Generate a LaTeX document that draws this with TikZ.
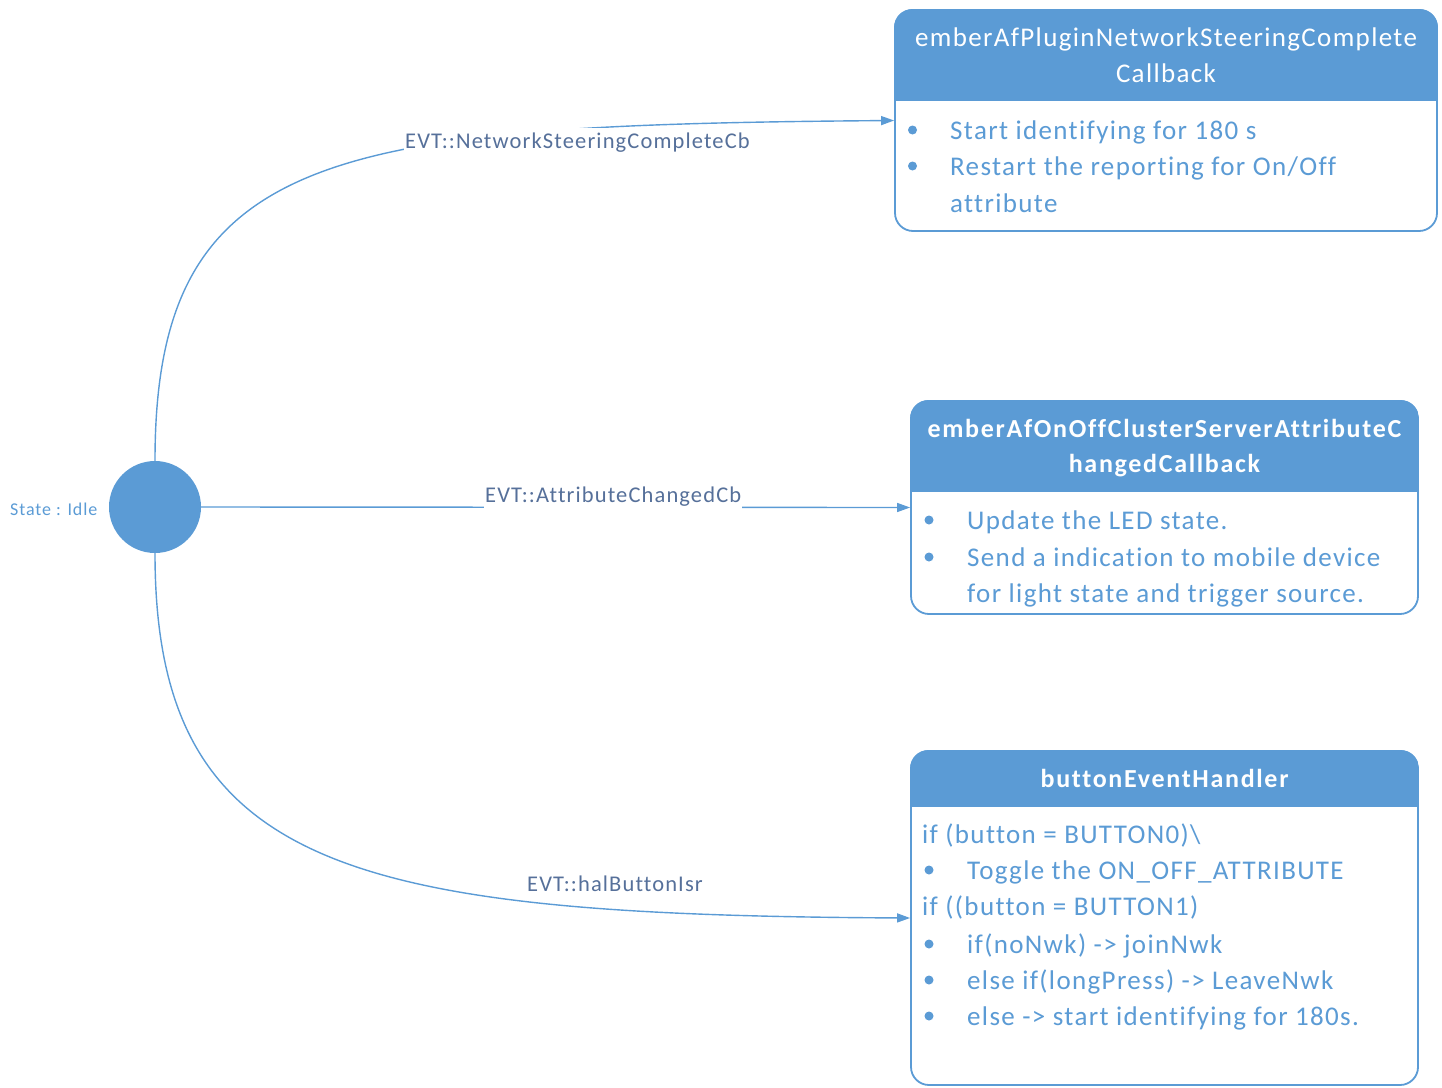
\documentclass[tikz,border=0pt]{standalone}
\usepackage{fontspec}
\setmainfont{Carlito}
\newfontfamily\spacedf[LetterSpace=5,Ligatures=CommonOff]{Carlito}
\newfontfamily\lblf[LetterSpace=5,Ligatures=CommonOff]{Carlito}
\newfontfamily\spacedbf[LetterSpace=6.5,Ligatures=CommonOff]{Carlito Bold}
\usetikzlibrary{arrows.meta}
\definecolor{vblue}{HTML}{5B9BD5}
\definecolor{lbl}{HTML}{56709A}
\begin{document}
\begin{tikzpicture}[x=1pt,y=-1pt,
  frame/.style={draw=vblue,line width=1.8pt,rounded corners=18pt,inner sep=0pt,fill=white},
  hdrtxt/.style={text=white,font=\spacedf\fontsize{27}{30}\selectfont,anchor=base,inner sep=0pt},
  hdrbold/.style={text=white,font=\spacedbf\fontsize{26}{30}\selectfont,anchor=base,inner sep=0pt},
  body/.style={text=vblue,font=\spacedf\fontsize{27}{30}\selectfont,anchor=base west,inner sep=0pt},
  dot/.style={circle,fill=vblue,inner sep=0pt,minimum size=9pt},
  conn/.style={draw=vblue,line width=1.4pt,-{Triangle[length=13pt,width=9pt]}},
  evt/.style={text=lbl,font=\lblf\fontsize{22.5}{26}\selectfont,fill=white,inner xsep=1pt,inner ysep=4pt,anchor=base west}]
\useasboundingbox (0,0) rectangle (1442,1087);

% state
\node[circle,fill=vblue,minimum size=92pt,inner sep=0pt] (idle) at (155,507) {};
\node[text=vblue,font=\spacedf\fontsize{18}{21}\selectfont,anchor=base west,inner sep=0pt] (idlelbl) at (10,515) {State : Idle};

% box 1
\node[frame,minimum width=542pt,minimum height=221pt] (b1) at (1166,120.5) {};
\begin{scope}
\clip[rounded corners=18pt] (b1.south west) rectangle (b1.north east);
\fill[vblue] (b1.north west) rectangle ([yshift=-92pt]b1.north east);
\end{scope}
\node[hdrtxt] (b1h1) at (1166,46) {emberAfPluginNetworkSteeringComplete};
\node[hdrtxt] (b1h2) at (1166,82) {Callback};
\node[dot] (b1d1) at (912.5,130) {};
\node[dot] (b1d2) at (912.5,166) {};
\node[body] (b1t1) at (950,139) {Start identifying for 180 s};
\node[body] (b1t2) at (950,175) {Restart the reporting for On/Off};
\node[body] (b1t3) at (950,212) {attribute};

% box 2
\node[frame,minimum width=507pt,minimum height=213pt] (b2) at (1164.5,507.5) {};
\begin{scope}
\clip[rounded corners=18pt] (b2.south west) rectangle (b2.north east);
\fill[vblue] (b2.north west) rectangle ([yshift=-92pt]b2.north east);
\end{scope}
\node[hdrbold] (b2h1) at (1164.5,437) {emberAfOnOffClusterServerAttributeC};
\node[hdrbold] (b2h2) at (1164.5,472) {hangedCallback};
\node[dot] (b2d1) at (929,520) {};
\node[dot] (b2d2) at (929,557) {};
\node[body] (b2t1) at (967,529) {Update the LED state.};
\node[body] (b2t2) at (967,566) {Send a indication to mobile device};
\node[body] (b2t3) at (967,602) {for light state and trigger source.};

% box 3
\node[frame,minimum width=507pt,minimum height=334pt] (b3) at (1164.5,918) {};
\begin{scope}
\clip[rounded corners=18pt] (b3.south west) rectangle (b3.north east);
\fill[vblue] (b3.north west) rectangle ([yshift=-57pt]b3.north east);
\end{scope}
\node[hdrbold] (b3h1) at (1164.5,787) {buttonEventHandler};
\node[body] (b3t1) at (922,843) {if (button = BUTTON0)\textbackslash};
\node[dot] (b3d1) at (929,870) {};
\node[body] (b3t2) at (967,879) {Toggle the ON\_OFF\_ATTRIBUTE};
\node[body] (b3t3) at (922,915) {if ((button = BUTTON1)};
\node[dot] (b3d2) at (929,944) {};
\node[body] (b3t4) at (967,953) {if(noNwk) -> joinNwk};
\node[dot] (b3d3) at (929,980) {};
\node[body] (b3t5) at (967,989) {else if(longPress) -> LeaveNwk};
\node[dot] (b3d4) at (929,1016) {};
\node[body] (b3t6) at (967,1025) {else -> start identifying for 180s.};

% connectors
\draw[conn] (idle.north) .. controls (155,150) and (330,125) .. (b1.west);
\draw[conn] (idle.east) -- (b2.west);
\draw[conn] (idle.south) .. controls (155,870) and (350,915) .. (b3.west);

% labels
\node[evt] (e1) at (404,148) {EVT::NetworkSteeringCompleteCb};
\node[evt] (e2) at (484,502) {EVT::AttributeChangedCb};
\node[evt,fill=none] (e3) at (526,891) {EVT::halButtonIsr};
\end{tikzpicture}
\end{document}
